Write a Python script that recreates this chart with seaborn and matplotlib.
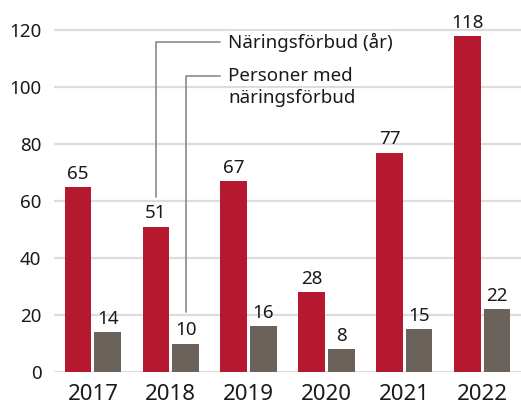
import seaborn as sns
import pandas as pd
import matplotlib.pyplot as plt

# data
years = ["2017", "2018", "2019", "2020", "2021", "2022"]
forbud_ar = [65, 51, 67, 28, 77, 118]
personer = [14, 10, 16, 8, 15, 22]
serier = ["Näringsförbud (år)", "Personer med\nnäringsförbud"]
farger = ["#b61830", "#6b635b"]

df = pd.DataFrame({
    "år": years * 2,
    "värde": forbud_ar + personer,
    "serie": [serier[0]] * len(years) + [serier[1]] * len(years),
})

sns.set_style("white")
plt.rcParams["font.family"] = ["Noto Sans", "DejaVu Sans"]

fig = plt.figure(figsize=(5.21, 4), dpi=100)
ax = fig.add_axes([54 / 521, 0.07, 467 / 521, 0.8835])

sns.barplot(data=df, x="år", y="värde", hue="serie", palette=farger,
            saturation=1, width=0.76, gap=0.1, linewidth=0,
            legend=False, ax=ax, zorder=3)

for c in ax.containers:
    ax.bar_label(c, padding=3, fontsize=13.5, color="#1a1a1a")

ax.set_xlim(-0.5, 5.5)
ax.set_ylim(0, 124)
ax.set_yticks(range(0, 121, 20))
ax.yaxis.grid(True, color="#dddddd", linewidth=1.6, zorder=0)
ax.set_axisbelow(True)
sns.despine(ax=ax, left=True, bottom=True)
ax.set_xlabel("")
ax.set_ylabel("")
ax.tick_params(axis="y", length=0, pad=9, labelsize=13.5, labelcolor="#1a1a1a")
ax.tick_params(axis="x", length=0, pad=9, labelsize=16, labelcolor="#1a1a1a")

# etiketter med linjer till 2018-staplarna
bar_red = ax.containers[0][1]
bar_grey = ax.containers[1][1]
xr = bar_red.get_x() + bar_red.get_width() / 2
xg = bar_grey.get_x() + bar_grey.get_width() / 2
lc = "#8a8a8a"
ax.plot([xr, xr, 1.634], [61.4, 115.8, 115.8], color=lc, lw=1.2, zorder=4)
ax.plot([xg, xg, 1.634], [21, 103.9, 103.9], color=lc, lw=1.2, zorder=4)
box = dict(facecolor="white", edgecolor="none", pad=1)
ax.text(1.736, 115.8, serier[0], fontsize=13.5, va="center", ha="left",
        color="#1a1a1a", bbox=box, zorder=5)
rad1, rad2 = serier[1].split("\n")
ax.text(1.736, 103.9, rad1, fontsize=13.5, va="center", ha="left",
        color="#1a1a1a", bbox=box, zorder=5)
ax.text(1.736, 96.0, rad2, fontsize=13.5, va="center", ha="left",
        color="#1a1a1a", bbox=box, zorder=5)

fig.savefig("out.png", dpi=100)
